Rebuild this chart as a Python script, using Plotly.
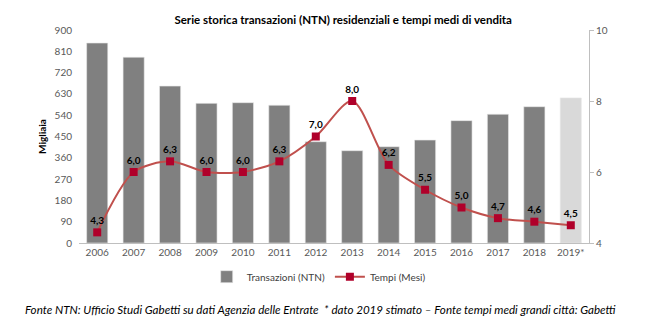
import plotly.graph_objects as go

# Annual residential transactions (thousands) and average selling time (months)
years = ["2006", "2007", "2008", "2009", "2010", "2011", "2012",
         "2013", "2014", "2015", "2016", "2017", "2018", "2019*"]
transazioni = [845, 785, 663, 590, 593, 582, 428, 390, 407, 435, 517, 544, 576, 613]
tempi = [4.3, 6.0, 6.3, 6.0, 6.0, 6.3, 7.0, 8.0, 6.2, 5.5, 5.0, 4.7, 4.6, 4.5]

left_ticks = [0, 90, 180, 270, 360, 450, 540, 630, 720, 810, 900]
right_ticks = [4, 6, 8, 10]

FONT = "Lato"
bar_colors = ["#808080"] * (len(years) - 1) + ["#D9D9D9"]
tempi_labels = [f"{v:.1f}".replace(".", ",") for v in tempi]

fig = go.Figure()
fig.add_trace(go.Bar(
    x=years, y=transazioni, name="Transazioni (NTN)",
    marker=dict(color=bar_colors, line=dict(color="#E8E8E8", width=0.6)),
    width=0.58, yaxis="y",
))
fig.add_trace(go.Scatter(
    x=years, y=tempi, name="Tempi (Mesi)", yaxis="y2",
    mode="lines+markers+text",
    line=dict(color="#C0504D", width=2, shape="spline", smoothing=0.8),
    marker=dict(symbol="square", size=8, color="#B0002A",
                line=dict(color="#B0002A", width=0)),
    text=tempi_labels, textposition="top center",
    textfont=dict(family=FONT, size=10, color="#000000", weight="bold"),
    cliponaxis=False,
))

fig.update_layout(
    width=660, height=326, autosize=False,
    margin=dict(l=79, r=71, t=30, b=83, pad=0),
    paper_bgcolor="white", plot_bgcolor="white",
    font=dict(family=FONT, size=10, color="#595959"),
    title=dict(
        text="<b>Serie storica transazioni (NTN) residenziali e tempi medi di vendita</b>",
        x=0.52, xanchor="center", y=0.94, yanchor="middle",
        font=dict(family=FONT, size=11.5, color="#000000"),
    ),
    bargap=0.42,
    showlegend=True,
    legend=dict(
        orientation="h", x=0.47, xanchor="center", y=-0.09, yanchor="top",
        font=dict(family=FONT, size=10, color="#404040"),
        itemwidth=30, tracegroupgap=0,
    ),
    xaxis=dict(
        type="category", range=[-0.5, len(years) - 0.5],
        showgrid=False, showline=True, automargin=False,
        linecolor="#BFBFBF", linewidth=1, ticks="", tickfont=dict(size=10),
    ),
    yaxis=dict(
        range=[0, 900], tickvals=left_ticks, showgrid=False, showline=False,
        zeroline=False, ticks="", ticklabelstandoff=6, automargin=False,
        title=dict(text="<b>Migliaia</b>", standoff=6,
                   font=dict(family=FONT, size=10, color="#000000")),
    ),
    yaxis2=dict(
        range=[4, 10], tickvals=right_ticks, overlaying="y", side="right",
        showgrid=False, showline=True, linecolor="#BFBFBF", linewidth=1,
        ticks="outside", ticklen=4, tickcolor="#BFBFBF", zeroline=False,
        automargin=False,
    ),
)

fig.add_annotation(
    text="<i>Fonte NTN: Ufficio Studi Gabetti su dati Agenzia delle Entrate  * dato 2019 stimato – Fonte tempi medi grandi città: Gabetti</i>",
    xref="paper", yref="paper", x=-0.11, xanchor="left", y=-0.27, yanchor="top",
    showarrow=False, font=dict(family=FONT, size=11.6, color="#000000"),
)

fig.write_html("out.html")
